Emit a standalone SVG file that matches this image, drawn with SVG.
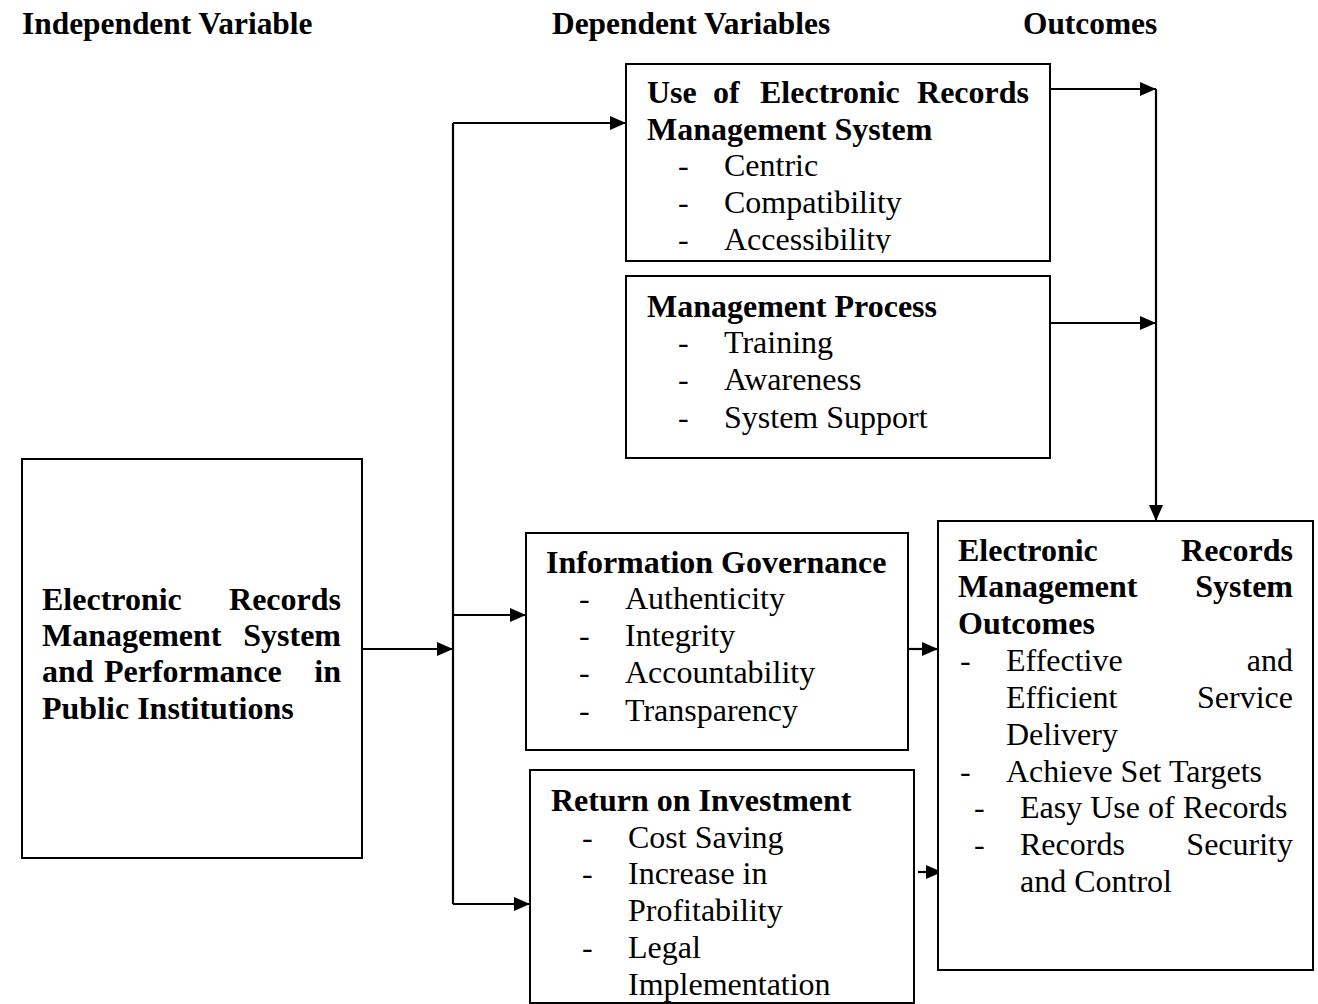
<svg xmlns="http://www.w3.org/2000/svg" width="1318" height="1004" viewBox="0 0 1318 1004">
<style>
text{font-family:"Liberation Serif","Times New Roman",serif;font-size:32px;fill:#000}
.b{font-weight:bold}
.h{font-size:31.4px}
.box{fill:#fff;stroke:#000;stroke-width:2}
.ln{fill:none;stroke:#000;stroke-width:2.2}
.e{text-anchor:end}
</style>
<defs>
<marker id="ah" markerUnits="userSpaceOnUse" markerWidth="16" markerHeight="14" refX="16" refY="7" orient="auto">
<path d="M0,0 L16,7 L0,14 z" fill="#000"/>
</marker>
<clipPath id="c1"><rect x="626" y="64" width="424" height="189"/></clipPath>
</defs>
<rect width="1318" height="1004" fill="#fff"/>

<g id="headers">
<text class="b h" x="22" y="34">Independent Variable</text>
<text class="b h" x="552" y="34">Dependent Variables</text>
<text class="b h" x="1023" y="34">Outcomes</text>
</g>

<g id="connectors">
<path class="ln" d="M453,123 V904"/>
<path class="ln" d="M360,649 H453" marker-end="url(#ah)"/>
<path class="ln" d="M453,123 H626" marker-end="url(#ah)"/>
<path class="ln" d="M453,615 H526" marker-end="url(#ah)"/>
<path class="ln" d="M453,904 H530" marker-end="url(#ah)"/>
<path class="ln" d="M1050,89 H1156" marker-end="url(#ah)"/>
<path class="ln" d="M1050,323 H1156" marker-end="url(#ah)"/>
<path class="ln" d="M1156,89 V521" marker-end="url(#ah)"/>
<path class="ln" d="M906,649 H938" marker-end="url(#ah)"/>
<path class="ln" d="M918,872 H942" marker-end="url(#ah)"/>
</g>

<g id="node-independent">
<rect class="box" x="22" y="459" width="340" height="399"/>
<text class="b" x="42" y="610">Electronic</text>
<text class="b e" x="341" y="610">Records</text>
<text class="b" x="42" y="646">Management</text>
<text class="b e" x="341" y="646">System</text>
<text class="b" x="42" y="682">and</text>
<text class="b" x="104" y="682">Performance</text>
<text class="b e" x="341" y="682">in</text>
<text class="b" x="42" y="719">Public Institutions</text>
</g>

<g id="node-erms-use">
<rect class="box" x="626" y="64" width="424" height="197"/>
<g clip-path="url(#c1)">
<text class="b" x="647" y="103">Use</text>
<text class="b" x="713" y="103">of</text>
<text class="b" x="760" y="103">Electronic</text>
<text class="b e" x="1029" y="103">Records</text>
<text class="b" x="647" y="140">Management System</text>
<text x="678" y="176">-</text><text x="724" y="176">Centric</text>
<text x="678" y="213">-</text><text x="724" y="213">Compatibility</text>
<text x="678" y="250">-</text><text x="724" y="250">Accessibility</text>
</g>
</g>

<g id="node-management-process">
<rect class="box" x="626" y="276" width="424" height="182"/>
<text class="b" x="647" y="317">Management Process</text>
<text x="678" y="353">-</text><text x="724" y="353">Training</text>
<text x="678" y="390">-</text><text x="724" y="390">Awareness</text>
<text x="678" y="428">-</text><text x="724" y="428">System Support</text>
</g>

<g id="node-information-governance">
<rect class="box" x="526" y="533" width="382" height="217"/>
<text class="b" x="546" y="573">Information Governance</text>
<text x="579" y="609">-</text><text x="625" y="609">Authenticity</text>
<text x="579" y="646">-</text><text x="625" y="646">Integrity</text>
<text x="579" y="683">-</text><text x="625" y="683">Accountability</text>
<text x="579" y="721">-</text><text x="625" y="721">Transparency</text>
</g>

<g id="node-roi">
<rect class="box" x="530" y="770" width="384" height="233"/>
<text class="b" x="551" y="811">Return on Investment</text>
<text x="582" y="848">-</text><text x="628" y="848">Cost Saving</text>
<text x="582" y="884">-</text><text x="628" y="884">Increase in</text>
<text x="628" y="921">Profitability</text>
<text x="582" y="958">-</text><text x="628" y="958">Legal</text>
<text x="628" y="995">Implementation</text>
</g>

<g id="node-outcomes">
<rect class="box" x="938" y="521" width="375" height="449"/>
<text class="b" x="958" y="561">Electronic</text>
<text class="b e" x="1293" y="561">Records</text>
<text class="b" x="958" y="597">Management</text>
<text class="b e" x="1293" y="597">System</text>
<text class="b" x="958" y="634">Outcomes</text>
<text x="960" y="671">-</text><text x="1006" y="671">Effective</text><text class="e" x="1293" y="671">and</text>
<text x="1006" y="708">Efficient</text><text class="e" x="1293" y="708">Service</text>
<text x="1006" y="745">Delivery</text>
<text x="960" y="782">-</text><text x="1006" y="782">Achieve Set Targets</text>
<text x="974" y="818">-</text><text x="1020" y="818">Easy Use of Records</text>
<text x="974" y="855">-</text><text x="1020" y="855">Records</text><text class="e" x="1293" y="855">Security</text>
<text x="1020" y="892">and Control</text>
</g>
</svg>
